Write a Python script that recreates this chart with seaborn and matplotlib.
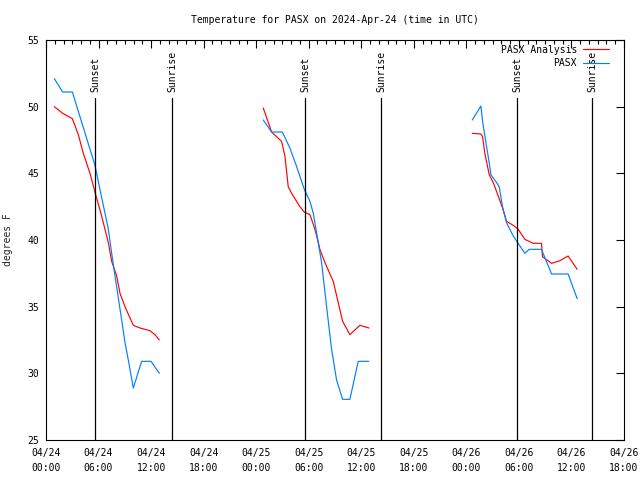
"""
Temperature chart for PASX, 2024-Apr-24 (gnuplot look, drawn with seaborn).
"""

import numpy as np
import pandas as pd
import matplotlib
matplotlib.use("Agg")
import matplotlib.pyplot as plt
import matplotlib.transforms as mtransforms
import seaborn as sns

# ---- data (hours since 2024-04-24 00:00 UTC, degrees F) ----
day1_obs_hours = [0.95, 1.90, 3.01, 5.59, 6.16, 6.74, 7.12, 7.50, 7.88, 8.64, 9.02, 9.40, 9.97, 10.92, 11.99, 12.94]
day1_obs_temps = [52.1, 51.1, 51.1, 45.6, 43.8, 42.0, 40.8, 39.0, 37.3, 34.0, 32.3, 31.0, 28.9, 30.9, 30.9, 30.0]
day1_ana_hours = [0.95, 1.90, 3.01, 3.69, 4.26, 5.02, 5.59, 6.35, 7.12, 7.50, 8.07, 8.45, 9.02, 9.97, 10.73, 11.87, 12.44, 12.94]
day1_ana_temps = [50.0, 49.5, 49.1, 47.9, 46.5, 45.0, 43.6, 41.8, 39.8, 38.4, 37.3, 36.0, 35.0, 33.6, 33.4, 33.2, 32.9, 32.5]

day2_obs_hours = [24.81, 25.76, 26.98, 27.85, 28.62, 29.49, 30.14, 30.52, 31.09, 31.47, 32.04, 32.61, 33.18, 33.87, 34.70, 35.65, 36.87]
day2_obs_temps = [49.0, 48.1, 48.1, 46.9, 45.5, 43.8, 42.9, 42.0, 39.8, 38.3, 35.0, 31.8, 29.5, 28.05, 28.05, 30.9, 30.9]
day2_ana_hours = [24.81, 25.76, 26.90, 27.28, 27.66, 28.05, 28.99, 29.49, 30.14, 30.71, 31.28, 31.85, 32.80, 33.37, 33.87, 34.70, 35.84, 36.87]
day2_ana_temps = [49.9, 48.1, 47.4, 46.3, 44.0, 43.5, 42.5, 42.1, 41.9, 40.8, 39.3, 38.3, 36.9, 35.3, 33.9, 32.9, 33.6, 33.4]

day3_obs_hours = [48.67, 49.66, 49.85, 50.31, 50.61, 50.80, 51.45, 51.75, 52.13, 52.59, 53.35, 54.68, 55.17, 56.58, 57.73, 59.62, 60.65]
day3_obs_temps = [49.0, 50.05, 48.9, 47.0, 45.8, 44.9, 44.3, 44.0, 42.5, 41.3, 40.3, 39.0, 39.3, 39.3, 37.45, 37.45, 35.6]
day3_ana_hours = [48.67, 49.66, 49.85, 50.11, 50.61, 51.07, 51.64, 52.13, 52.59, 53.35, 53.92, 54.68, 55.63, 56.58, 56.70, 57.73, 58.68, 59.62, 60.65]
day3_ana_temps = [48.0, 47.95, 47.75, 46.5, 44.9, 44.3, 43.3, 42.4, 41.4, 41.1, 40.8, 40.05, 39.75, 39.75, 38.75, 38.25, 38.45, 38.8, 37.8]

sunset_hours = [5.65, 29.57, 53.78]
sunrise_hours = [14.39, 38.25, 62.34]

tick_hours = [0, 6, 12, 18, 24, 30, 36, 42, 48, 54, 60, 66]
tick_labels = ["04/24\n00:00", "04/24\n06:00", "04/24\n12:00", "04/24\n18:00",
               "04/25\n00:00", "04/25\n06:00", "04/25\n12:00", "04/25\n18:00",
               "04/26\n00:00", "04/26\n06:00", "04/26\n12:00", "04/26\n18:00"]
y_ticks = [25, 30, 35, 40, 45, 50, 55]

sns.set_theme(style="white")
matplotlib.rcParams.update({
    "font.family": ["DejaVu Sans Mono", "DejaVu Sans"],
    "font.size": 7,
    "axes.edgecolor": "black",
    "axes.linewidth": 0.8,
    "xtick.direction": "in",
    "ytick.direction": "in",
    "xtick.top": True,
    "ytick.right": True,
    "xtick.color": "black",
    "ytick.color": "black",
    "text.color": "black",
})

RED = "#ff0000"
BLUE = "#0080ff"

frames = []
for day, (h, t) in enumerate([(day1_ana_hours, day1_ana_temps),
                              (day2_ana_hours, day2_ana_temps),
                              (day3_ana_hours, day3_ana_temps)]):
    frames.append(pd.DataFrame({"hour": h, "temp": t, "series": "PASX Analysis", "day": day}))
for day, (h, t) in enumerate([(day1_obs_hours, day1_obs_temps),
                              (day2_obs_hours, day2_obs_temps),
                              (day3_obs_hours, day3_obs_temps)]):
    frames.append(pd.DataFrame({"hour": h, "temp": t, "series": "PASX", "day": day}))
df = pd.concat(frames, ignore_index=True)

fig = plt.figure(figsize=(6.4, 4.8), dpi=100)
ax = fig.add_axes([46 / 640, 40 / 480, 578 / 640, 400 / 480])

sns.lineplot(data=df, x="hour", y="temp", hue="series", units="day",
             estimator=None, sort=False, palette={"PASX Analysis": RED, "PASX": BLUE},
             linewidth=0.85, ax=ax)

# sunset / sunrise markers
trans = mtransforms.blended_transform_factory(ax.transData, ax.transAxes)
for hrs, name in [(sunset_hours, "Sunset"), (sunrise_hours, "Sunrise")]:
    for h in hrs:
        ax.plot([h, h], [0, 0.855], color="black", linewidth=0.9, transform=trans)
        ax.text(h, 0.87, name, rotation=90, ha="center", va="bottom",
                transform=trans, fontsize=7)

ax.set_xlim(0, 66)
ax.set_ylim(25, 55)
ax.set_xticks(tick_hours)
ax.set_xticklabels(tick_labels, linespacing=1.6)
ax.set_xticks(np.arange(0, 67, 1), minor=True)
ax.set_yticks(y_ticks)
ax.tick_params(axis="both", which="major", length=6, width=0.8, labelsize=7)
ax.tick_params(axis="x", which="major", pad=6)
ax.tick_params(axis="y", which="major", pad=5)
ax.tick_params(axis="x", which="minor", length=3, width=0.8, top=True)
ax.set_xlabel("")
ax.set_ylabel("degrees F", fontsize=7, labelpad=10)
ax.set_title("Temperature for PASX on 2024-Apr-24 (time in UTC)", fontsize=7, pad=12)

leg = ax.legend(loc="upper right", bbox_to_anchor=(0.981, 0.998), frameon=False,
                markerfirst=False, fontsize=7, handlelength=2.7, handletextpad=0.6,
                labelspacing=0.35, borderaxespad=0)
leg._legend_box._children[-1]._children[0].align = "right"

fig.savefig("out.png", dpi=100)
